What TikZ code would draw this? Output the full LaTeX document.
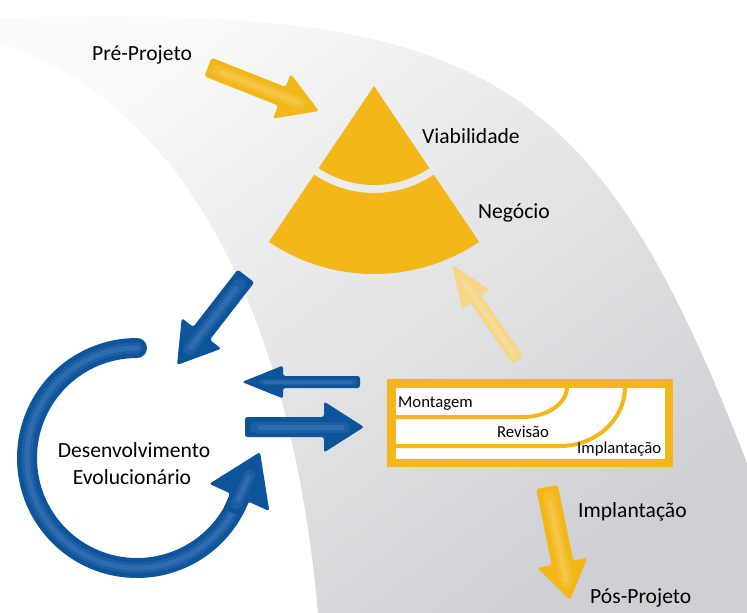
\documentclass[tikz,border=0pt]{standalone}
\usepackage{fontspec}
\setmainfont{Carlito}
\usetikzlibrary{calc}

\definecolor{bandlight}{RGB}{249,250,250}
\definecolor{banddark}{RGB}{206,208,211}
\definecolor{gold}{RGB}{243,183,26}
\definecolor{goldglow}{RGB}{252,222,130}
\definecolor{goldpale}{RGB}{246,214,134}
\definecolor{palglow}{RGB}{250,230,172}
\definecolor{navy}{RGB}{14,84,155}
\definecolor{navyglow}{RGB}{90,140,200}

% block arrow: fill, glow, tail, tip, half shaft, half head, head length
\newcommand{\blockarrow}[7]{%
  \coordinate (ab) at ($(#4)!#7!(#3)$);
  \fill[#1, rounded corners=2.5pt]
    ($(#3)!#5!90:(#4)$) -- ($(ab)!#5!90:(#4)$) -- ($(ab)!#6!90:(#4)$) -- (#4)
    -- ($(ab)!#6!-90:(#4)$) -- ($(ab)!#5!-90:(#4)$) -- ($(#3)!#5!-90:(#4)$) -- cycle;
  \draw[#2, line width=1.1*#5, line cap=round, opacity=.2]
    ($(#3)!#5!(#4)$) -- ($(#4)!.5*#7!(#3)$);
  \draw[#2, line width=.5*#5, line cap=round, opacity=.3]
    ($(#3)!1.5*#5!(#4)$) -- ($(#4)!.55*#7!(#3)$);
}

\begin{document}
\begin{tikzpicture}[x=1pt, y=-1pt,
  lab/.style={font=\fontsize{21.6}{26}\selectfont, inner sep=0pt, anchor=base west},
  slab/.style={font=\fontsize{16.7}{20}\selectfont, inner sep=0pt, anchor=base west},
  phase/.style={gold, line width=4pt}]
\useasboundingbox (0,0) rectangle (747,613);

% grey band behind everything
\shade[top color=bandlight, bottom color=banddark, shading angle=37]
  (0,18) .. controls (483,3.5) and (595,70) .. (747,463)
  -- (747,613) -- (318,613)
  .. controls (290,302) and (179,102) .. (0,43)
  -- cycle;

% pyramid
\coordinate (apex) at (374,86);
\fill[gold] (apex) -- ($(apex)+(56:99)$) arc[start angle=56, end angle=124, radius=99] -- cycle;
\fill[gold] ($(apex)+(56:107)$) arc[start angle=56, end angle=124, radius=107]
  -- ($(apex)+(124:188)$) arc[start angle=124, end angle=56, radius=188] -- cycle;
\node[lab] (viab) at (422,143) {Viabilidade};
\node[lab] (neg) at (478,218) {Negócio};

% phases box
\node[draw=gold, line width=8.5pt, fill=white, minimum width=277.5pt,
  minimum height=79.5pt, inner sep=0pt] (box) at (530,423) {};
\draw[phase] (395.5,417) -- (523,417) arc[start angle=90, end angle=0, x radius=44, y radius=30];
\draw[phase] (395.5,446) -- (560,446) arc[start angle=90, end angle=0, x radius=65, y radius=59];
\node[slab] (mont) at (398,407) {Montagem};
\node[slab] (rev) at (497,437) {Revisão};
\node[slab] (implb) at (577,453) {Implantação};

% yellow arrows
\coordinate (preT) at (208,67);
\coordinate (preH) at (319,111);
\blockarrow{gold}{goldglow}{preT}{preH}{10pt}{24pt}{40pt}
\coordinate (backT) at (518,360);
\coordinate (backH) at (452,265);
\blockarrow{goldpale}{palglow}{backT}{backH}{6.5pt}{17pt}{42pt}
\coordinate (posT) at (547,487);
\coordinate (posH) at (570,600);
\blockarrow{gold}{goldglow}{posT}{posH}{11pt}{25.5pt}{38pt}

% blue arrows
\coordinate (downT) at (246,276);
\coordinate (downH) at (177,365);
\blockarrow{navy}{navyglow}{downT}{downH}{10.5pt}{25pt}{40pt}
\coordinate (leftT) at (360,382);
\coordinate (leftH) at (242,382);
\blockarrow{navy}{navyglow}{leftT}{leftH}{6pt}{16.5pt}{41pt}
\coordinate (rightT) at (245,427);
\coordinate (rightH) at (364,427);
\blockarrow{navy}{navyglow}{rightT}{rightH}{10pt}{25.5pt}{40pt}

% evolutionary loop
\coordinate (loop) at (137,458);
\draw[navy, line width=20pt, line cap=round] ($(loop)+(270:110)$) arc[start angle=270, end angle=21, radius=110];
\draw[navyglow, line width=11pt, line cap=round, opacity=.2] ($(loop)+(270:110)$) arc[start angle=270, end angle=24, radius=110];
\draw[navyglow, line width=5pt, line cap=round, opacity=.3] ($(loop)+(270:110)$) arc[start angle=270, end angle=24, radius=110];
\coordinate (loopT) at ($(loop)+(30:110)$);
\coordinate (loopH) at (260,452);
\blockarrow{navy}{navyglow}{loopT}{loopH}{10pt}{33pt}{50pt}

% labels
\node[lab] (pre) at (92,60) {Pré-Projeto};
\node[lab, anchor=base] (dev1) at (134,457) {Desenvolvimento};
\node[lab, anchor=base] (dev2) at (132,484) {Evolucionário};
\node[lab] (impl) at (578,517) {Implantação};
\node[lab] (pos) at (590,603) {Pós-Projeto};
\end{tikzpicture}
\end{document}
